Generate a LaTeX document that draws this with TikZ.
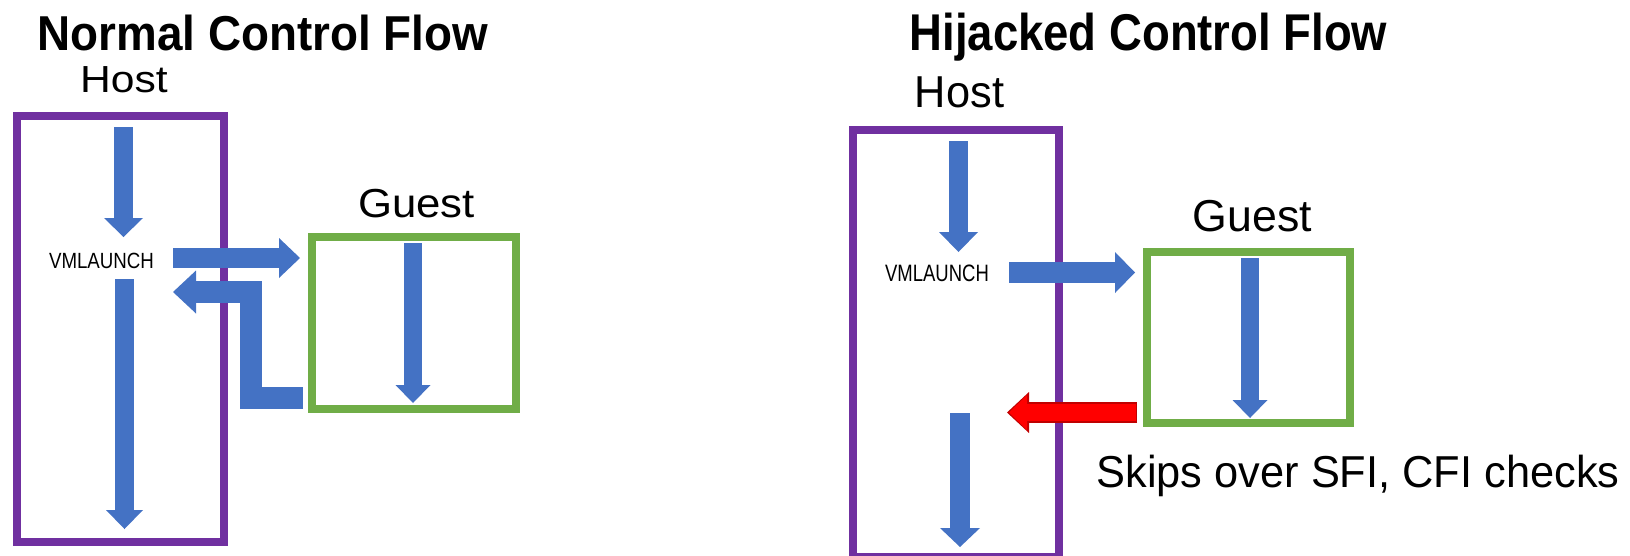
\documentclass[tikz,border=0pt]{standalone}
\usepackage{graphicx}
\usepackage{fontspec}
\setmainfont{Liberation Sans}
\usepackage{tikz}
\usetikzlibrary{positioning}
\usetikzlibrary{calc,arrows.meta}
\definecolor{flowblue}{HTML}{4472C4}
\definecolor{hostpurple}{HTML}{7030A0}
\definecolor{guestgreen}{HTML}{70AD47}
\definecolor{darkred}{HTML}{C00000}
\tikzset{
  box/.style = {rectangle, draw, line width=8pt, inner sep=0pt},
  hostbox/.style = {box, draw=hostpurple},
  guestbox/.style = {box, draw=guestgreen},
  flow/.style = {draw=flowblue, line width=19pt,
    -{Triangle[length=19pt, width=39pt, line width=0pt]}},
  title/.style = {anchor=base, font=\fontsize{#1}{#1}\selectfont\bfseries},
  lbl/.style = {anchor=base, font=\fontsize{#1}{#1}\selectfont},
}

\begin{document}
\begin{tikzpicture}[x=1pt, y=-1pt]
  \useasboundingbox (0,0) rectangle (1630,555);

  % normal control flow
  \node (titleA) [title=49] at (263,50) {\scalebox{0.935}[1]{Normal Control Flow}};
  \node (hostA) [hostbox, minimum width=207pt, minimum height=426pt] at (120.5,329) {};
  \node (hostAlbl) [lbl=37.7] at (124,92) {\scalebox{1.13}[1]{Host}};
  \node (guestA) [guestbox, minimum width=204pt, minimum height=172pt] at (414,323) {};
  \node (guestAlbl) [lbl=40.5] at (416.5,217) {\scalebox{1.08}[1]{Guest}};
  \node (vmA) [lbl=22] at (101.5,268) {\scalebox{0.85}[1]{VMLAUNCH}};

  \coordinate (a1) at (123.5,127);  \coordinate (a2) at (123.5,237);
  \coordinate (a3) at (124.5,279);  \coordinate (a4) at (124.5,529);
  \coordinate (a5) at (173,258);    \coordinate (a6) at (300,258);
  \coordinate (a7) at (413,243);    \coordinate (a8) at (413,403);
  \coordinate (r1) at (303,397.5);  \coordinate (r2) at (251,397.5);
  \coordinate (r3) at (251,292);    \coordinate (r4) at (173,292);

  \draw[flow] (a1) -- (a2);
  \draw[flow, -{Triangle[length=19pt, width=37pt, line width=0pt]}] (a3) -- (a4);
  \draw[flow, line width=20pt, -{Triangle[length=21pt, width=40pt, line width=0pt]}] (a5) -- (a6);
  \draw[flow, line width=18pt, -{Triangle[length=18pt, width=35pt, line width=0pt]}] (a7) -- (a8);
  \draw[flow, line width=22pt, -{Triangle[length=23pt, width=43pt, line width=0pt]}]
    (r1) -- (r2) -- (r3) -- (r4);

  % hijacked control flow
  \node (titleB) [title=51.7] at (1148.5,50) {\scalebox{0.88}[1]{Hijacked Control Flow}};
  \node (hostB) [hostbox, minimum width=206pt, minimum height=427pt] at (956,343.5) {};
  \node (hostBlbl) [lbl=44.7] at (959.5,107) {\scalebox{0.97}[1]{Host}};
  \node (guestB) [guestbox, minimum width=203pt, minimum height=171pt] at (1248.5,337.5) {};
  \node (guestBlbl) [lbl=44.7] at (1252.5,231) {Guest};
  \node (vmB) [lbl=23.7] at (937,281) {\scalebox{0.78}[1]{VMLAUNCH}};
  \node (skip) [lbl=44.7] at (1358,487) {\scalebox{0.97}[1]{Skips over SFI, CFI checks}};

  \coordinate (b1) at (958.5,141);  \coordinate (b2) at (958.5,252);
  \coordinate (b3) at (1009,272.5); \coordinate (b4) at (1135,272.5);
  \coordinate (b5) at (1250,258);   \coordinate (b6) at (1250,418);
  \coordinate (b7) at (960,413);    \coordinate (b8) at (960,547);
  \coordinate (jump) at (1137,412.5); \coordinate (land) at (1007,412.5);

  \draw[flow, -{Triangle[length=20pt, width=39pt, line width=0pt]}] (b1) -- (b2);
  \draw[flow, line width=21pt, -{Triangle[length=20pt, width=41pt, line width=0pt]}] (b3) -- (b4);
  \draw[flow, line width=18pt, -{Triangle[length=18pt, width=35pt, line width=0pt]}] (b5) -- (b6);
  \draw[flow, line width=20pt, -{Triangle[length=19pt, width=40pt, line width=0pt]}] (b7) -- (b8);

  % the jump back, red with a dark rim
  \draw[darkred, line width=21pt, -{Triangle[length=22pt, width=41pt, line width=0pt]}] (jump) -- (land);
  \draw[red, line width=17pt, shorten >=2pt, -{Triangle[length=18pt, width=35pt, line width=0pt]}]
    ($(jump)+(-1.5,0)$) -- (land);
\end{tikzpicture}
\end{document}
